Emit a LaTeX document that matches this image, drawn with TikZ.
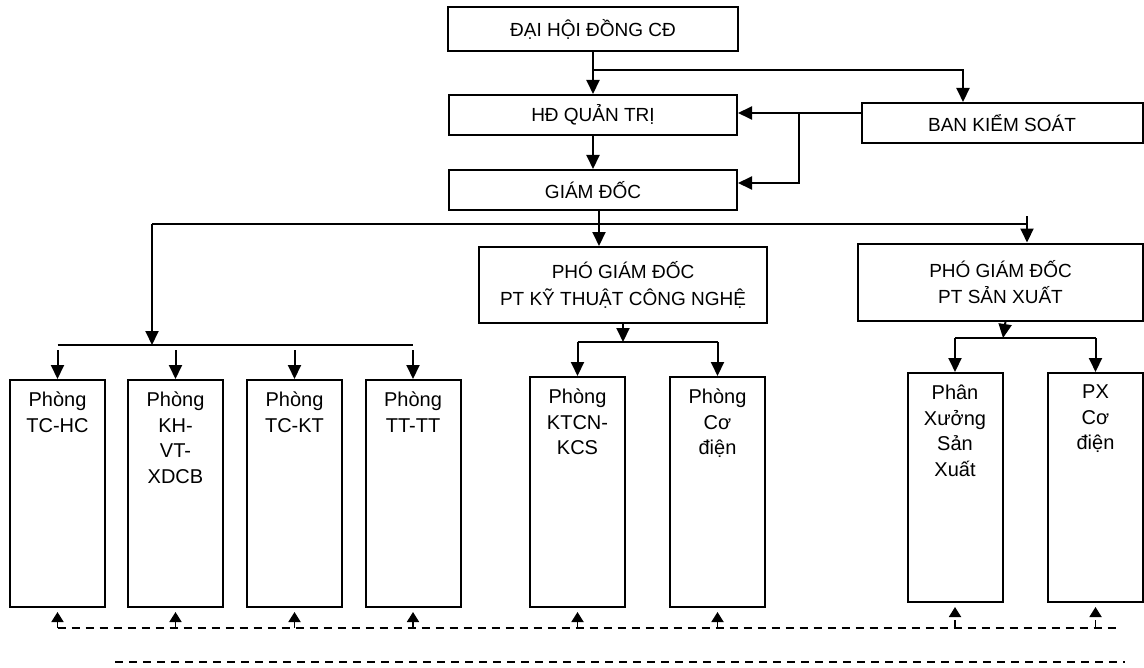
\documentclass[tikz,border=0pt]{standalone}
\usepackage{fontspec}
\setmainfont{Liberation Sans}
\usetikzlibrary{arrows.meta}

\begin{document}
\begin{tikzpicture}[x=0.5pt, y=-0.5pt, >={Triangle[width=6.5pt,length=7pt]},
    line width=1pt,
    box/.style={draw, line width=1pt, inner sep=0pt,
      font=\fontsize{9.5}{13.3}\selectfont, align=center},
    cell/.style={draw, line width=1pt, inner sep=0pt, minimum width=47.5pt},
    celltext/.style={anchor=north, inner sep=0pt, align=center,
      font=\fontsize{10}{12.8}\selectfont},
    dashline/.style={line width=0.9pt, dash pattern=on 4pt off 3pt},
    uptip/.style={-{Triangle[width=6pt,length=5pt]}, shorten >=2pt}]
    \useasboundingbox (0,0) rectangle (1144,668);
    % Top levels
    \node[box, minimum width=145pt, minimum height=22pt] (dhd) at (593,29) {ĐẠI HỘI ĐỒNG CĐ};
    \node[box, minimum width=144pt, minimum height=20pt] (hdqt) at (593,115) {HĐ QUẢN TRỊ};
    \node[box, minimum width=144pt, minimum height=20pt] (gd) at (593,190) {GIÁM ĐỐC};
    \node[box, minimum width=140.5pt, minimum height=20pt] (bks) at (1002,123) {BAN KIỂM SOÁT};
    % Deputies
    \node[box, minimum width=144pt, minimum height=38pt] (pkt) at (623,285)
      {PHÓ GIÁM ĐỐC\\PT KỸ THUẬT CÔNG NGHỆ};
    \node[box, minimum width=142.5pt, minimum height=38.5pt] (psx) at (1000.5,282)
      {PHÓ GIÁM ĐỐC\\PT SẢN XUẤT};
    % Offices under the director
    \foreach \nm/\cx/\txt in {tchc/57.5/{Phòng\\TC-HC}, khvt/175.5/{Phòng\\KH-\\VT-\\XDCB},
        tckt/294.5/{Phòng\\TC-KT}, tttt/413/{Phòng\\TT-TT}} {
      \node[cell, minimum height=113.5pt] (\nm) at (\cx,493.5) {};
      \node[celltext] (\nm-t) at ([yshift=-6pt]\nm.north) {\txt};
    }
    % Offices under the technical deputy
    \foreach \nm/\cx/\txt in {kcs/577.5/{Phòng\\KTCN-\\KCS}, cdien/717.5/{Phòng\\Cơ\\điện}} {
      \node[cell, minimum height=115pt] (\nm) at (\cx,492) {};
      \node[celltext] (\nm-t) at ([yshift=-6pt]\nm.north) {\txt};
    }
    % Workshops under the production deputy
    \foreach \nm/\cx/\txt in {pxsx/955/{Phân\\Xưởng\\Sản\\Xuất}, pxcd/1095.5/{PX\\Cơ\\điện}} {
      \node[cell, minimum height=114.5pt] (\nm) at (\cx,487.5) {};
      \node[celltext] (\nm-t) at ([yshift=-6pt]\nm.north) {\txt};
    }
    % Upper connectors
    \coordinate (split) at (593,70);
    \coordinate (tap) at (799,113);
    \draw[->] (dhd.south) -- (hdqt.north);
    \draw[->] (split) -| ([xshift=-19.5pt]bks.north);
    \draw[->] ([yshift=5pt]bks.west) -- ([yshift=5pt]bks.west -| hdqt.east);
    \draw[->] (tap) |- ([yshift=3.5pt]gd.east);
    \draw[->] (hdqt.south) -- (gd.north);
    % Main bus below the director
    \coordinate (busL) at (152,224);
    \coordinate (busR) at (1027,224);
    \draw (busL) -- (busR);
    \draw[->] ([xshift=3pt]gd.south) -- ([xshift=3pt]gd.south |- pkt.north);
    \draw[->] (busR) -- (busR |- psx.north);
    \draw (busR) -- ++(0,-8);
    % Left group
    \coordinate (lbus) at (152,345);
    \draw[->] (busL) -- (lbus);
    \draw (tchc.north |- lbus) -- (tttt.north |- lbus);
    \foreach \nm in {tchc, khvt, tckt, tttt} {
      \draw[->, shorten <=2.5pt] (\nm.north |- lbus) -- (\nm.north);
    }
    % Middle group
    \coordinate (mbus) at (623,342);
    \draw[->] (pkt.south) -- (mbus);
    \draw (kcs.north |- mbus) -- (cdien.north |- mbus);
    \foreach \nm in {kcs, cdien} {
      \draw[->] (\nm.north |- mbus) -- (\nm.north);
    }
    % Right group
    \coordinate (rbus) at (1003,338);
    \draw[->] ([xshift=2.5pt]psx.south) -- (rbus);
    \draw (pxsx.north |- rbus) -- (pxcd.north |- rbus);
    \foreach \nm in {pxsx, pxcd} {
      \draw[->] (\nm.north |- rbus) -- (\nm.north);
    }
    % Dashed feedback lines
    \coordinate (dl) at (0,628);
    \coordinate (dlend) at (1118,628);
    \coordinate (d2a) at (115,662);
    \coordinate (d2b) at (1125,662);
    \draw[dashline] (tchc.south |- dl) -- (dlend);
    \foreach \nm in {tchc, khvt, tckt, tttt, kcs, cdien, pxsx, pxcd} {
      \draw[dashline, uptip] (\nm.south |- dl) -- (\nm.south);
    }
    \draw[dashline] (d2a) -- (d2b);
\end{tikzpicture}
\end{document}
